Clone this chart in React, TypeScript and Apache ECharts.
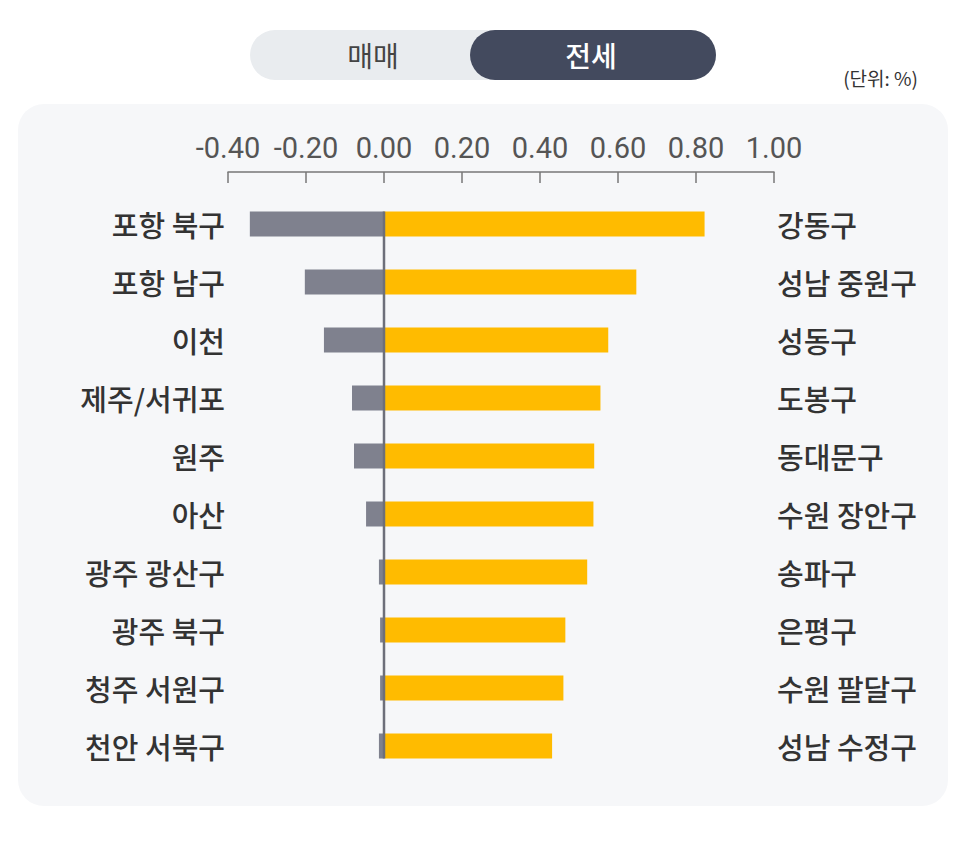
import React, { useEffect, useRef } from "react";
import * as echarts from "echarts";

const leftCategories = ["포항 북구", "포항 남구", "이천", "제주/서귀포", "원주", "아산", "광주 광산구", "광주 북구", "청주 서원구", "천안 서북구"];
const negativeValues = [-0.344, -0.203, -0.154, -0.082, -0.077, -0.046, -0.013, -0.01, -0.01, -0.013];
const rightCategories = ["강동구", "성남 중원구", "성동구", "도봉구", "동대문구", "수원 장안구", "송파구", "은평구", "수원 팔달구", "성남 수정구"];
const positiveValues = [0.822, 0.647, 0.575, 0.555, 0.539, 0.537, 0.521, 0.465, 0.46, 0.431];
const tabLabels = ["매매", "전세"];
const unitLabel = "(단위: %)";

const FONT = "'Noto Sans CJK KR', 'Noto Sans', sans-serif";
const NUM_FONT = "Roboto, 'Noto Sans', sans-serif";
const BAR_W = 25;

export default function App() {
  const ref = useRef<HTMLDivElement>(null);
  useEffect(() => {
    if (!ref.current) return;
    const chart = echarts.init(ref.current, undefined, { renderer: "svg" });
    const last = leftCategories.length - 1;
    chart.setOption({
      animation: false,
      backgroundColor: "#ffffff",
      textStyle: { fontFamily: FONT },
      graphic: [
        { type: "rect", shape: { x: 18, y: 104, width: 930, height: 702, r: 26 }, style: { fill: "#f6f7f9" }, z: -10 },
        { type: "rect", shape: { x: 250, y: 30, width: 466, height: 50, r: 25 }, style: { fill: "#e9ecef" } },
        { type: "rect", shape: { x: 470, y: 30, width: 246, height: 50, r: 25 }, style: { fill: "#434a5e" } },
        { type: "text", x: 373, y: 55, style: { text: tabLabels[0], fill: "#444", font: `400 28px ${FONT}`, textAlign: "center", textVerticalAlign: "middle" } },
        { type: "text", x: 591, y: 55, style: { text: tabLabels[1], fill: "#ffffff", font: `500 28px ${FONT}`, textAlign: "center", textVerticalAlign: "middle" } },
        { type: "text", x: 918, y: 77, style: { text: unitLabel, fill: "#333", font: `400 19px ${FONT}`, textAlign: "right", textVerticalAlign: "middle" } },
      ],
      grid: { left: 228, right: 192, top: 195, bottom: 80 },
      xAxis: {
        type: "value",
        position: "top",
        offset: 23,
        min: -0.4,
        max: 1.0,
        interval: 0.2,
        splitLine: { show: false },
        axisLine: { show: true, lineStyle: { color: "#777", width: 1.5 } },
        axisTick: { show: true, inside: true, length: 11, lineStyle: { color: "#777", width: 1.5 } },
        axisLabel: { formatter: (v: number) => v.toFixed(2), color: "#555", fontSize: 29, margin: 10, fontFamily: NUM_FONT },
      },
      yAxis: [
        {
          type: "category",
          data: leftCategories,
          inverse: true,
          position: "left",
          axisLine: { show: false },
          axisTick: { show: false },
          axisLabel: { color: "#333", fontSize: 29, fontWeight: 500, margin: 3, fontFamily: FONT },
        },
        {
          type: "category",
          data: rightCategories,
          inverse: true,
          position: "right",
          axisLine: { show: false },
          axisTick: { show: false },
          axisLabel: { color: "#333", fontSize: 29, fontWeight: 500, margin: 3, fontFamily: FONT },
        },
      ],
      series: [
        { type: "bar", data: negativeValues, barWidth: BAR_W, barGap: "-100%", itemStyle: { color: "#7f818e" } },
        { type: "bar", data: positiveValues, barWidth: BAR_W, barGap: "-100%", itemStyle: { color: "#ffbb00" } },
        {
          type: "custom",
          data: [[0, 0]],
          z: 5,
          renderItem: (params: any, api: any) => {
            const p0 = api.coord([0, 0]);
            const p1 = api.coord([0, last]);
            return {
              type: "line",
              shape: { x1: p0[0], y1: p0[1] - BAR_W / 2, x2: p1[0], y2: p1[1] + BAR_W / 2 },
              style: { stroke: "#6d6f7a", lineWidth: 2.5 },
            };
          },
        },
      ],
    });
    return () => chart.dispose();
  }, []);
  return <div ref={ref} style={{ position: "absolute", left: 0, top: 0, width: 966, height: 855 }} />;
}
